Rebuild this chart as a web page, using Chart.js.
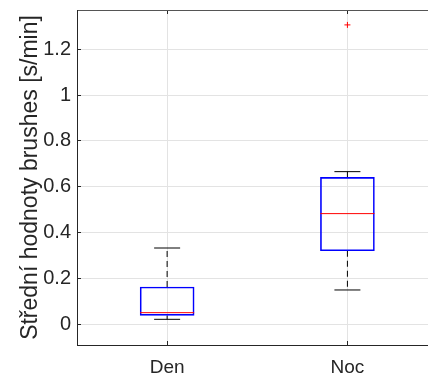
<!DOCTYPE html>
<html>
<head>
<meta charset="utf-8">
<script src="https://cdn.jsdelivr.net/npm/chart.js@4/dist/chart.umd.min.js"></script>
<style>
  html, body { margin: 0; padding: 0; background: #fff; }
  #wrap { width: 428px; height: 376px; }
</style>
</head>
<body>
<div id="wrap"><canvas id="chart" width="428" height="376"></canvas></div>
<script>
  // box plot statistics per group
  const categories = ['Den', 'Noc'];
  const whiskerLow = [0.022, 0.150];
  const quart1 = [0.039, 0.321];
  const medians = [0.051, 0.483];
  const quart3 = [0.163, 0.641];
  const whiskerHigh = [0.333, 0.666];
  const outliers = [[], [1.306]];
  const yTicks = [0, 0.2, 0.4, 0.6, 0.8, 1, 1.2];

  const AXIS = '#262626';
  const GRID = '#e3e3e3';
  const FONT = 'Liberation Sans, Arial, Helvetica, sans-serif';
  const TICK_IN = -4; // matlab style ticks pointing into the plot

  const xPos = categories.map((_, i) => i + 1);

  const boxData = xPos.map((x, i) => ({ x, y: [quart1[i], quart3[i]] }));
  const medianData = xPos.map((x, i) => ({ x, y: medians[i] }));
  const capData = [];
  const whiskerData = [];
  xPos.forEach((x, i) => {
    capData.push({ x, y: whiskerLow[i] }, { x, y: whiskerHigh[i] });
    whiskerData.push({ x, y: quart3[i] }, { x, y: whiskerHigh[i] }, { x, y: null });
    whiskerData.push({ x, y: quart1[i] }, { x, y: whiskerLow[i] }, { x, y: null });
  });
  const outlierData = [];
  xPos.forEach((x, i) => outliers[i].forEach(v => outlierData.push({ x, y: v })));

  // no automatic label padding, the plot box is pinned by hand
  const noPad = (axis) => {
    axis.paddingTop = 0; axis.paddingBottom = 0;
    axis.paddingLeft = 0; axis.paddingRight = 0;
  };
  const catTicks = (axis) => { axis.ticks = xPos.map(v => ({ value: v })); };

  new Chart(document.getElementById('chart'), {
    data: {
      datasets: [
        {
          type: 'line',
          data: whiskerData,
          borderColor: '#000',
          borderWidth: 1,
          borderDash: [6, 4],
          pointRadius: 0,
          spanGaps: false,
          order: 3
        },
        {
          type: 'bar',
          data: boxData,
          backgroundColor: 'rgba(0,0,0,0)',
          borderColor: '#0000ff',
          borderWidth: 1,
          borderSkipped: false,
          barThickness: 54,
          order: 2
        },
        {
          type: 'scatter',
          data: capData,
          pointStyle: 'line',
          pointRadius: 13,
          borderColor: '#000',
          borderWidth: 1,
          order: 1
        },
        {
          type: 'scatter',
          data: medianData,
          pointStyle: 'line',
          pointRadius: 27,
          borderColor: '#ff0000',
          borderWidth: 1,
          order: 0
        },
        {
          type: 'scatter',
          data: outlierData,
          pointStyle: 'cross',
          pointRadius: 3,
          borderColor: '#ff0000',
          borderWidth: 1,
          order: 0
        }
      ]
    },
    options: {
      responsive: false,
      animation: false,
      events: [],
      layout: { autoPadding: false, padding: { top: 10, right: 0, bottom: 0, left: 0 } },
      plugins: { legend: { display: false }, tooltip: { enabled: false } },
      scales: {
        x: {
          type: 'linear',
          position: 'bottom',
          offset: false,
          min: 0.5,
          max: 2.447,
          afterBuildTicks: catTicks,
          afterFit: (axis) => { axis.height = 31; noPad(axis); },
          grid: { color: GRID, offset: false, drawTicks: true, tickLength: TICK_IN, tickColor: AXIS },
          border: { color: AXIS, width: 1 },
          ticks: {
            color: AXIS,
            padding: 15,
            font: { family: FONT, size: 19 },
            callback: (v) => categories[v - 1] || ''
          }
        },
        xTop: {
          type: 'linear',
          position: 'top',
          offset: false,
          min: 0.5,
          max: 2.447,
          afterBuildTicks: catTicks,
          afterFit: (axis) => { axis.height = 0; noPad(axis); },
          grid: { drawOnChartArea: false, offset: false, drawTicks: true, tickLength: TICK_IN, tickColor: AXIS },
          border: { color: '#555', width: 1 },
          ticks: { display: false }
        },
        y: {
          min: -0.09,
          max: 1.371,
          afterBuildTicks: (axis) => { axis.ticks = yTicks.map(v => ({ value: v })); },
          afterFit: (axis) => { axis.width = 77; noPad(axis); },
          grid: { color: GRID, drawTicks: true, tickLength: TICK_IN, tickColor: AXIS },
          border: { color: AXIS, width: 1 },
          ticks: {
            color: AXIS,
            padding: 10,
            font: { family: FONT, size: 20 },
            callback: (v) => String(Math.round(v * 10) / 10)
          },
          title: {
            display: true,
            text: 'Střední hodnoty brushes [s/min]',
            color: AXIS,
            font: { family: FONT, size: 23 },
            padding: { top: 17, bottom: 0 }
          }
        }
      }
    }
  });
</script>
</body>
</html>
